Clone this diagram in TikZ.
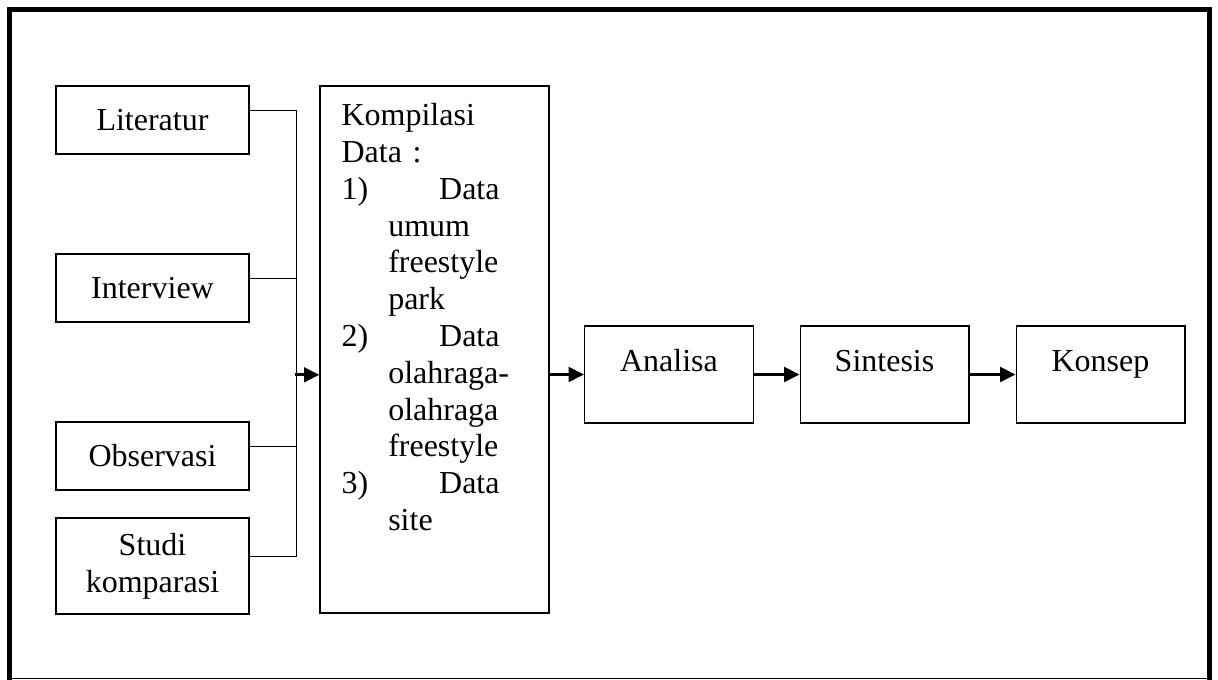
\documentclass[tikz,border=0pt]{standalone}
\usepackage{fontspec}
\setmainfont{Liberation Serif}
\usetikzlibrary{arrows.meta}

\begin{document}
\begin{tikzpicture}[x=0.75pt,y=-0.75pt,font=\fontsize{24}{27.6}\selectfont,
  box/.style={draw, line width=1pt, minimum width=144.75pt, minimum height=51pt, align=center, inner sep=0pt},
  stepbox/.style={box, minimum width=126.5pt, minimum height=0pt, text height=34.5pt, text depth=38.25pt},
  link/.style={line width=1pt},
  flow/.style={line width=2pt, -{Triangle[length=11.5pt,width=11pt]}}]
\useasboundingbox (0,0) rectangle (1218,680);
\draw[line width=3.75pt] (9.5,680) -- (9.5,9.5) -- (1209.5,9.5) -- (1209.5,680);
\draw[line width=1pt] (9.5,678.5) -- (1209.5,678.5);
\node[box] (lit) at (152.5,120) {Literatur};
\node[box] (intv) at (152.5,288) {Interview};
\node[box] (obs) at (152.5,456) {Observasi};
\node[box, minimum height=72pt] (studi) at (152.5,566) {Studi\\komparasi};
\node[box, minimum width=171.75pt, minimum height=395.25pt] (komp) at (434.5,349.5) {};
\node[anchor=north west, text width=118.5pt, align=left, inner sep=0pt] (kompt) at ([xshift=16.5pt,yshift=-13.5pt]komp.north west) {Kompilasi\\
Data :\\
1)\hfill Data\\
\hspace*{35pt}umum\\
\hspace*{35pt}freestyle\\
\hspace*{35pt}park\\
2)\hfill Data\\
\hspace*{35pt}\mbox{olahraga-}\\
\hspace*{35pt}olahraga\\
\hspace*{35pt}freestyle\\
3)\hfill Data\\
\hspace*{35pt}site};
\node[stepbox] (ana) at (669,374.5) {Analisa};
\node[stepbox] (sin) at (884.5,374.5) {Sintesis};
\node[stepbox] (kon) at (1100.5,374.5) {Konsep};
\draw[link] ([yshift=7pt]lit.east) -- ++(35.25pt,0) |- ([yshift=7pt]studi.east);
\draw[link] ([yshift=7pt]intv.east) -- ++(35.25pt,0);
\draw[link] ([yshift=7pt]obs.east) -- ++(35.25pt,0);
\draw[flow] ([xshift=-18pt,yshift=-19pt]komp.west) -- ([yshift=-19pt]komp.west);
\draw[flow] (komp.east |- ana.west) -- (ana.west);
\draw[flow] (ana.east) -- (sin.west);
\draw[flow] (sin.east) -- (kon.west);
\end{tikzpicture}
\end{document}
